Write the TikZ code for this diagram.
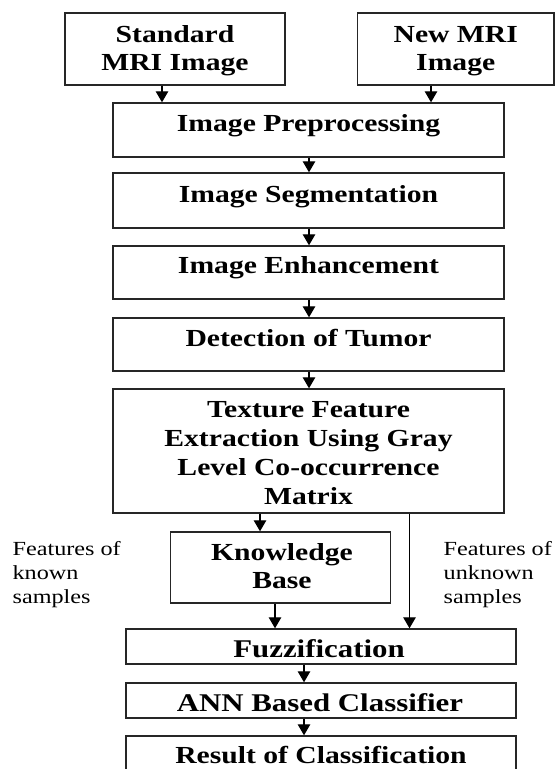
\documentclass[tikz,border=0pt]{standalone}
\usepackage{fontspec}
\setmainfont{Liberation Serif}[FakeStretch=1.21]
\usetikzlibrary{arrows.meta}

% centred and left-aligned stacks whose baseline is that of the first line
\newcommand\rowsc[2]{\vtop{\baselineskip=#1\halign{\hfil##\hfil\cr#2\crcr}}}
\newcommand\rowsl[2]{\vtop{\baselineskip=#1\halign{##\hfil\cr#2\crcr}}}

\begin{document}
\begin{tikzpicture}[x=1pt,y=-1pt,
  blk/.style={draw=black!85,line width=1.4pt,rectangle,inner sep=0pt},
  ttl/.style={anchor=base,inner sep=0pt,font=\fontsize{24.5}{29}\selectfont\bfseries},
  ttlbig/.style={ttl,font=\fontsize{25.5}{29}\selectfont\bfseries},
  note/.style={anchor=base west,inner sep=0pt,font=\fontsize{20}{24}\selectfont},
  arr/.style={draw=black,line width=1.2pt,-{Triangle[width=12.5pt,length=11pt]}}]

\useasboundingbox (0,0) rectangle (555,769);
\clip (0,0) rectangle (555,769);

% boxes
\node[blk,minimum width=220,minimum height=72] (std) at (175,49) {};
\node[blk,minimum width=196.5,minimum height=72] (new) at (455.75,49) {};
\node[blk,minimum width=391,minimum height=54] (pre) at (308.5,130) {};
\node[blk,minimum width=391,minimum height=55] (seg) at (308.5,200.5) {};
\node[blk,minimum width=391,minimum height=53] (enh) at (308.5,272.5) {};
\node[blk,minimum width=391,minimum height=53] (det) at (308.5,344.5) {};
\node[blk,minimum width=391,minimum height=124] (tex) at (308.5,451) {};
\node[blk,minimum width=220,minimum height=71] (kb) at (280.5,567.5) {};
\node[blk,minimum width=390,minimum height=35] (fuz) at (321,646.5) {};
\node[blk,minimum width=390,minimum height=35] (ann) at (321,700.5) {};
\node[blk,minimum width=390,minimum height=64] (res) at (321,768) {};

% box texts
\node[ttl] (stdT) at (175,42) {\rowsc{28pt}{Standard\cr MRI Image}};
\node[ttl] (newT) at (455.75,42) {\rowsc{28pt}{New MRI\cr Image}};
\node[ttl] (preT) at (308.5,131) {Image Preprocessing};
\node[ttl] (segT) at (308.5,202) {Image Segmentation};
\node[ttl] (enhT) at (308.5,273) {Image Enhancement};
\node[ttl] (detT) at (308.5,346) {Detection of Tumor};
\node[ttl] (texT) at (308.5,417) {\rowsc{29pt}{Texture Feature\cr Extraction Using Gray\cr Level Co-occurrence\cr Matrix}};
\node[ttl] (kbT) at (282,560) {\rowsc{28pt}{Knowledge\cr Base}};
\node[ttlbig] (fuzT) at (319,657) {Fuzzification};
\node[ttlbig] (annT) at (320,711) {ANN Based Classifier};
\node[ttl] (resT) at (321,763) {Result of Classification};

% side notes
\node[note] (known) at (12.4,555) {\rowsl{24pt}{Features of\cr known\cr samples}};
\node[note] (unknown) at (443.5,555) {\rowsl{24pt}{Features of\cr unknown\cr samples}};

% connector columns
\coordinate (cStd) at (162,0);
\coordinate (cNew) at (431,0);
\coordinate (cMid) at (309,0);
\coordinate (cKbIn) at (260,0);
\coordinate (cKbOut) at (275,0);
\coordinate (cUnk) at (409.5,0);
\coordinate (cLow) at (304,0);

% connectors
\draw[arr] (std.south -| cStd) -- (pre.north -| cStd);
\draw[arr] (new.south -| cNew) -- (pre.north -| cNew);
\draw[arr] (pre.south -| cMid) -- (seg.north -| cMid);
\draw[arr] (seg.south -| cMid) -- (enh.north -| cMid);
\draw[arr] (enh.south -| cMid) -- (det.north -| cMid);
\draw[arr] (det.south -| cMid) -- (tex.north -| cMid);
\draw[arr] (tex.south -| cKbIn) -- (kb.north -| cKbIn);
\draw[arr] (kb.south -| cKbOut) -- (fuz.north -| cKbOut);
\draw[arr] (tex.south -| cUnk) -- (fuz.north -| cUnk);
\draw[arr] (fuz.south -| cLow) -- (ann.north -| cLow);
\draw[arr] (ann.south -| cLow) -- (res.north -| cLow);
\end{tikzpicture}
\end{document}
